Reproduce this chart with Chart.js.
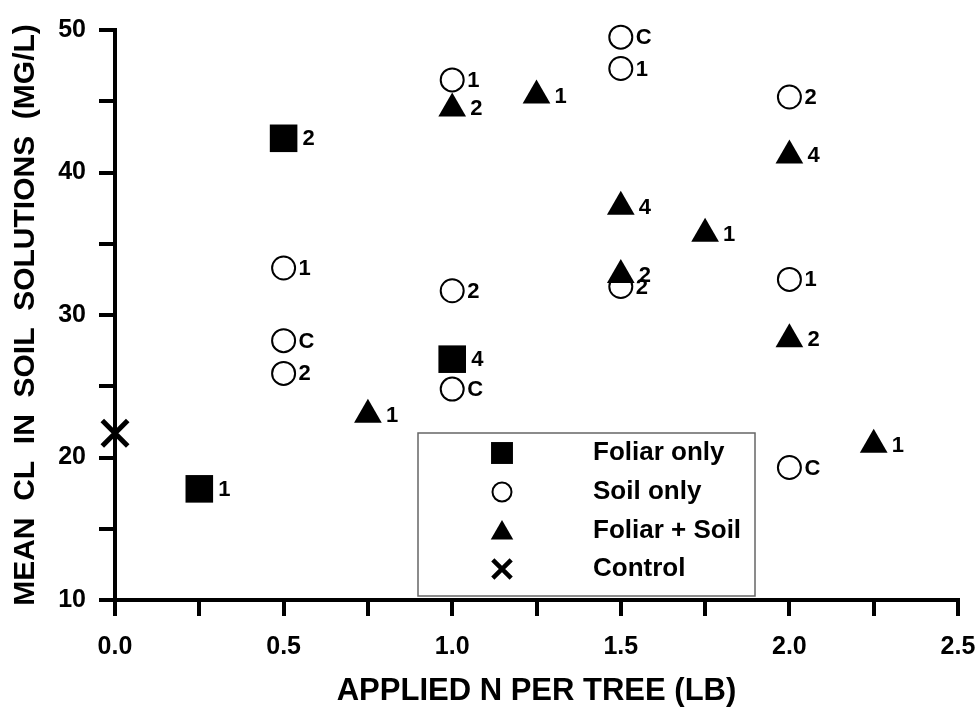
<!DOCTYPE html>
<html>
<head>
<meta charset="utf-8">
<script src="https://cdn.jsdelivr.net/npm/chart.js@4.4.1/dist/chart.umd.min.js"></script>
<style>
  html, body { margin: 0; padding: 0; background: #fff; }
</style>
</head>
<body>
<canvas id="chart" width="976" height="707"></canvas>
<script>
// ── Dados ────────────────────────────────────────────────────────────────
const foliarX     = [0.25, 0.5, 1.0];
const foliarY     = [17.8, 42.4, 26.9];
const foliarTags  = ['1', '2', '4'];

const soilX       = [0.5, 0.5, 0.5, 1.0, 1.0, 1.0, 1.5, 1.5, 1.5, 2.0, 2.0, 2.0];
const soilY       = [33.3, 28.2, 25.9, 46.5, 31.7, 24.8, 49.5, 47.3, 32.0, 45.3, 32.5, 19.3];
const soilTags    = ['1', 'C', '2', '1', '2', 'C', 'C', '1', '2', '2', '1', 'C'];

const bothX       = [0.75, 1.0, 1.25, 1.5, 1.5, 1.75, 2.0, 2.0, 2.25];
const bothY       = [23.0, 44.5, 45.4, 37.6, 32.8, 35.7, 41.2, 28.3, 20.9];
const bothTags    = ['1', '2', '1', '4', '2', '1', '4', '2', '1'];

const controlX    = [0.0];
const controlY    = [21.7];

const xTickLabels = ['0.0', '0.5', '1.0', '1.5', '2.0', '2.5'];
const yTickLabels = ['10', '20', '30', '40', '50'];

const FONT = '"Liberation Sans", Arial, Helvetica, sans-serif';
const pts = (xs, ys) => xs.map((x, i) => ({ x, y: ys[i] }));

// Rótulos ao lado de cada ponto (1, 2, 4, C)
const pointTags = {
    id: 'pointTags',
    afterDatasetsDraw(chart) {
        const ctx = chart.ctx;
        ctx.save();
        ctx.font = `bold 22px ${FONT}`;
        ctx.fillStyle = '#000';
        ctx.textBaseline = 'middle';
        chart.data.datasets.forEach((ds, i) => {
            if (!ds.tags) return;
            chart.getDatasetMeta(i).data.forEach((el, j) => {
                ctx.fillText(ds.tags[j], el.x + ds.tagOffset, el.y + 1);
            });
        });
        ctx.restore();
    }
};

// Legenda em caixa dentro da área do gráfico
const boxLegend = {
    id: 'boxLegend',
    afterDraw(chart) {
        const ctx = chart.ctx;
        const box = { x: 418, y: 433, w: 337, h: 163 };
        ctx.save();
        ctx.fillStyle = '#fff';
        ctx.fillRect(box.x, box.y, box.w, box.h);
        ctx.strokeStyle = '#666';
        ctx.lineWidth = 1.5;
        ctx.strokeRect(box.x, box.y, box.w, box.h);

        const rows = [453, 492, 531, 569];
        const legendStyle = [
            { pointStyle: 'rect',     radius: 15.5, borderWidth: 0 },
            { pointStyle: 'circle',   radius: 9.5,  borderWidth: 2 },
            { pointStyle: 'triangle', radius: 13,   borderWidth: 0 },
            { pointStyle: 'crossRot', radius: 13,   borderWidth: 4.5 }
        ];
        chart.data.datasets.forEach((ds, i) => {
            const y = rows[i];
            ctx.fillStyle = ds.backgroundColor;
            ctx.strokeStyle = '#000';
            ctx.lineWidth = legendStyle[i].borderWidth;
            Chart.helpers.drawPoint(ctx, { ...legendStyle[i], rotation: 0 }, 502, i === 2 ? y + 2 : y);
            ctx.fillStyle = '#000';
            ctx.font = `bold 26px ${FONT}`;
            ctx.textBaseline = 'middle';
            ctx.fillText(ds.label, 593, y);
        });
        ctx.restore();
    }
};

const axisCommon = {
    border: { display: true, color: '#000', width: 4 },
    grid: {
        drawOnChartArea: false,
        drawTicks: true,
        tickLength: 16,
        lineWidth: 4,
        color: '#000'
    }
};

new Chart(document.getElementById('chart').getContext('2d'), {
    type: 'scatter',
    data: {
        datasets: [
            {
                label: 'Foliar only',
                data: pts(foliarX, foliarY),
                tags: foliarTags,
                tagOffset: 19,
                pointStyle: 'rect',
                pointRadius: 19.5,
                backgroundColor: '#000',
                borderColor: '#000',
                borderWidth: 0,
                order: 1,
                clip: false
            },
            {
                label: 'Soil only',
                data: pts(soilX, soilY),
                tags: soilTags,
                tagOffset: 15,
                pointStyle: 'circle',
                pointRadius: 11.5,
                backgroundColor: '#fff',
                borderColor: '#000',
                borderWidth: 2,
                order: 3,
                clip: false
            },
            {
                label: 'Foliar + Soil',
                data: pts(bothX, bothY),
                tags: bothTags,
                tagOffset: 18,
                pointStyle: 'triangle',
                pointRadius: 16,
                backgroundColor: '#000',
                borderColor: '#000',
                borderWidth: 0,
                order: 1,
                clip: false
            },
            {
                label: 'Control',
                data: pts(controlX, controlY),
                pointStyle: 'crossRot',
                pointRadius: 18,
                backgroundColor: '#000',
                borderColor: '#000',
                borderWidth: 5,
                order: 0,
                clip: false
            }
        ]
    },
    options: {
        responsive: false,
        animation: false,
        events: [],
        // sem autoPadding: o raio dos pontos não deve encolher a área do gráfico
        layout: { autoPadding: false, padding: { top: 30, right: 18, left: 0, bottom: 0 } },
        plugins: {
            legend: { display: false },
            tooltip: { enabled: false }
        },
        scales: {
            x: {
                ...axisCommon,
                type: 'linear',
                min: 0,
                max: 2.5,
                afterFit: s => { s.height = 107; s.paddingLeft = 0; s.paddingRight = 0; },
                ticks: {
                    stepSize: 0.25,
                    autoSkip: false,
                    maxRotation: 0,
                    padding: 16,
                    color: '#000',
                    font: { family: FONT, size: 25, weight: 'bold' },
                    callback: v => {
                        const k = Math.round(v * 4);
                        return k % 2 === 0 ? xTickLabels[k / 2] : '';
                    }
                },
                title: {
                    display: true,
                    text: 'APPLIED N PER TREE (LB)',
                    color: '#000',
                    font: { family: FONT, size: 31, weight: 'bold', lineHeight: 1 },
                    padding: { top: 0, bottom: 0 }
                }
            },
            y: {
                ...axisCommon,
                min: 10,
                max: 50,
                afterFit: s => { s.width = 115; s.paddingTop = 0; s.paddingBottom = 0; },
                ticks: {
                    stepSize: 5,
                    autoSkip: false,
                    padding: 13,
                    color: '#000',
                    font: { family: FONT, size: 25, weight: 'bold' },
                    callback: v => (v % 10 === 0 ? yTickLabels[(v - 10) / 10] : '')
                },
                title: {
                    display: true,
                    text: 'MEAN  CL  IN  SOIL  SOLUTIONS  (MG/L)',
                    color: '#000',
                    font: { family: FONT, size: 30, weight: 'bold', lineHeight: 1.2 },
                    padding: { top: 8, bottom: 0 }
                }
            }
        }
    },
    plugins: [pointTags, boxLegend]
});
</script>
</body>
</html>
